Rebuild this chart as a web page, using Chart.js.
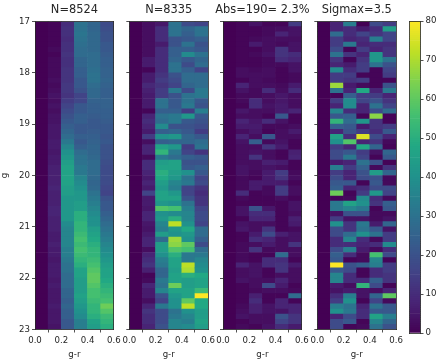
<!DOCTYPE html>
<html><head><meta charset="utf-8">
<style>
html,body{margin:0;padding:0;background:#fff;width:442px;height:361px;overflow:hidden}
canvas{position:absolute;left:0;top:0}
#wrap{position:absolute;left:0;top:0;width:442px;height:361px;filter:blur(0.3px)}
</style>
<script src="https://cdn.jsdelivr.net/npm/chart.js@4"></script>
</head><body><div id="wrap"></div>
<script>
const titles = ["N=8524","N=8335","Abs=190= 2.3%","Sigmax=3.5"];
const xTicksLabel = "g-r";
const yLabel = "g";
const colBins = [0.05,0.15,0.25,0.35,0.45,0.55];
const gStart = 17, gStep = 0.1;
const zeroColumn = [0,0,0,0,0,0,0,0,0,0, 0,0,0,0,0,0,0,0,0,0, 0,0,0,0,0,0,0,0,0,0, 0,0,0,0,0,0,0,0,0,0, 0,0,0,0,0,0,0,0,0,0, 0,0,0,0,0,0,0,0,0,0];

const p1c1 = [1,1,1,1,1,2,1,2,2,2, 2,3,2,3,4,3,4,3,4,4, 5,5,5,6,6,5,6,6,7,7, 7,7,8,7,7,7,8,8,7,7, 7,6,6,7,6,6,5,6,6,6, 5,6,5,5,5,6,5,5,5,4];
const p1c2 = [10,11,11,10,11,11,12,11,11,12, 12,12,13,13,12,14,16,18,20,22, 24,26,28,32,36,40,42,44,46,46, 46,46,44,44,42,42,42,42,42,38, 36,36,36,36,34,34,32,30,30,28, 28,28,26,26,24,26,24,24,22,22];
const p1c3 = [30,30,31,30,29,28,28,26,26,24, 24,22,22,20,16,17,22,22,24,24, 22,22,24,22,24,28,30,30,32,32, 36,38,40,42,42,44,44,50,50,52, 52,54,56,54,56,54,52,50,46,46, 44,44,44,46,44,42,40,38,34,34];
const p1c4 = [26,26,27,27,27,27,28,28,28,29, 30,30,28,27,27,25,24,24,23,22, 22,23,24,25,26,26,27,28,28,28, 27,26,27,30,32,34,36,38,40,40, 44,46,48,50,52,52,54,56,58,60, 60,58,56,56,54,52,52,50,46,44];
const p1c5 = [18,19,20,20,22,22,23,24,24,25, 25,26,25,24,24,25,25,24,24,23, 22,22,21,22,20,20,20,19,18,18, 18,18,17,16,20,22,22,24,26,28, 30,32,34,36,38,40,42,44,46,46, 48,50,52,54,56,62,58,54,52,50];

const p2c1 = [3,3,3,3,3,3,3,6,6,1, 6,6,9,7,6,6,6,1,8,10, 8,6,14,3,8,8,2,10,10,8, 6,8,6,16,6,6,5,8,8,5, 4,6,8,8,3,8,10,12,7,1, 2,8,6,6,3,8,12,10,10,8];
const p2c2 = [5,10,10,10,6,10,10,10,10,10, 12,14,12,14,14,30,30,24,30,28, 38,24,40,24,46,52,32,44,46,50, 48,44,42,46,46,42,58,40,42,36, 34,44,28,44,44,40,34,32,26,26, 32,30,36,20,16,32,18,18,18,20];
const p2c3 = [30,30,30,20,20,24,24,26,30,30, 20,18,16,32,20,22,22,24,32,32, 20,26,42,26,42,32,28,46,46,44, 42,36,34,42,46,40,56,38,50,72, 42,40,68,66,58,50,46,46,44,46, 46,62,46,42,40,40,30,32,36,36];
const p2c4 = [18,26,24,22,30,24,38,22,18,24, 28,28,26,18,30,30,32,14,42,22, 20,22,26,26,14,16,24,20,22,40, 30,32,16,16,20,30,34,36,36,40, 48,42,40,60,56,32,32,72,70,50, 44,44,46,46,60,72,40,36,34,38];
const p2c5 = [16,30,30,24,20,22,30,26,28,16, 28,28,28,32,32,22,20,34,22,20, 18,14,22,28,30,12,22,20,24,22, 16,18,12,10,12,12,16,18,18,16, 28,28,24,18,28,32,36,38,40,48, 46,46,54,80,48,48,44,44,46,44];

const p3c1 = [1,1,1,1,1,1,1,1,1,3, 3,1,8,4,2,2,1,5,3,8, 6,3,8,4,3,3,3,3,4,4, 2,2,2,10,2,1,4,4,1,4, 5,1,1,2,2,2,2,8,3,3, 4,1,1,1,1,2,3,4,1,2];
const p3c2 = [4,1,1,2,6,1,2,1,1,2, 3,3,3,2,2,10,10,3,3,5, 6,5,3,24,3,4,12,3,3,2, 1,6,6,1,1,1,20,10,8,3, 3,6,10,3,12,1,1,4,4,4, 3,3,2,7,10,7,7,3,3,1];
const p3c3 = [1,2,2,3,3,3,4,2,2,3, 3,2,3,10,3,3,4,3,1,10, 2,1,22,2,12,3,3,7,4,6, 6,6,2,2,1,1,5,10,8,3, 12,18,8,6,2,1,10,10,1,1, 3,18,3,1,1,4,4,3,3,4];
const p3c4 = [1,3,8,3,2,12,12,10,2,1, 1,1,2,3,5,5,6,6,22,4, 2,3,3,4,6,1,1,6,3,14, 12,6,14,14,3,1,1,1,1,1, 1,7,3,3,3,28,10,12,12,3, 8,6,3,1,8,8,4,20,16,10];
const p3c5 = [14,4,4,3,4,4,10,8,4,4, 2,2,6,10,3,3,3,8,1,1, 3,6,3,1,1,7,8,1,1,2, 3,1,3,3,1,4,4,3,7,6, 2,4,4,12,3,3,1,6,3,3, 3,1,2,28,1,8,8,12,12,6];

const p4c1 = [8,8,28,14,14,18,30,12,8,38, 14,14,68,30,1,14,8,36,22,52, 24,8,46,40,14,18,18,6,34,14, 18,22,24,62,1,32,32,4,14,40, 18,18,10,10,18,24,22,80,22,36, 36,6,4,10,14,34,40,8,18,18];
const p4c2 = [34,10,10,8,32,1,12,1,6,10, 14,12,6,8,24,38,38,10,24,28, 22,20,10,58,8,22,32,8,14,8, 8,22,8,1,2,46,36,20,4,12, 12,28,36,10,34,10,1,20,18,10, 10,3,6,34,40,30,32,18,22,1];
const p4c3 = [0,6,16,10,8,14,8,12,14,14, 1,14,2,48,14,16,8,8,1,42, 6,14,76,8,48,14,16,30,24,20, 18,1,10,14,38,40,32,20,4,32, 30,40,10,8,6,2,2,24,1,1, 10,52,4,4,1,8,10,10,1,2];
const p4c4 = [18,10,12,34,10,8,42,42,30,1, 1,1,1,8,14,20,30,18,66,12, 12,10,18,12,26,4,1,20,2,44, 20,22,18,42,10,12,1,2,2,6, 22,30,2,10,2,56,36,34,10,10, 24,18,3,26,16,30,22,46,36,30];
const p4c5 = [14,44,16,16,10,12,12,30,20,16, 14,1,20,32,8,12,16,28,1,1, 14,22,8,2,1,26,22,1,12,26, 2,2,18,16,2,24,22,2,4,26, 4,14,14,38,10,18,1,14,14,12, 12,1,8,60,2,22,22,34,26,20];

const panels = [
  [zeroColumn,p1c1,p1c2,p1c3,p1c4,p1c5],
  [zeroColumn,p2c1,p2c2,p2c3,p2c4,p2c5],
  [zeroColumn,p3c1,p3c2,p3c3,p3c4,p3c5],
  [zeroColumn,p4c1,p4c2,p4c3,p4c4,p4c5]
];
const colorbarTicks = [0,10,20,30,40,50,60,70,80];
const viridisStops = [[68,1,84],[72,36,117],[65,68,135],[53,95,141],[42,120,142],[33,145,140],[34,168,132],[68,191,112],[122,209,81],[189,223,38],[253,231,37]];

function viridis(v){
  const t = Math.max(0,Math.min(1,v/80))*(viridisStops.length-1);
  const i = Math.min(Math.floor(t),viridisStops.length-2), f = t-i;
  const a = viridisStops[i], b = viridisStops[i+1];
  return `rgb(${a.map((c,k)=>Math.round(c+(b[k]-c)*f)).join(",")})`;
}
const ink = "#262626", tickFont = {family:"'DejaVu Sans'",size:8.6};
const W = 442, H = 361;
Chart.defaults.animation = false;
Chart.defaults.responsive = false;

function spine(pos){
  const horiz = pos==="top"||pos==="bottom";
  return {position:pos,display:true,grid:{display:false},ticks:{display:false},
    border:{display:true,color:ink,width:0.8,z:2},
    afterFit:s=>{ if(horiz) s.height=0; else s.width=0; }};
}
function mount(){
  const c = document.createElement("canvas");
  c.width=W;c.height=H;c.style.width=W+"px";c.style.height=H+"px";
  document.getElementById("wrap").appendChild(c);
  return c;
}
const axisTicks = {color:ink,font:tickFont,padding:2,autoSkip:false,maxRotation:0,minRotation:0};
const axisGrid = {display:true,drawOnChartArea:false,drawTicks:true,tickLength:3,tickColor:ink,tickWidth:0.8};

const lefts = [35,129.3,223,317.3], plotW = 78.8, top_ = 21.5, bottom_ = 329.5;
panels.forEach((cols,p)=>{
  const L = lefts[p], R = L+plotW;
  const points = [], colors = [];
  cols.forEach((col,c)=>col.forEach((v,r)=>{
    points.push({x:colBins[c],y:[gStart+r*gStep,gStart+(r+1)*gStep]});
    colors.push(viridis(v));
  }));
  new Chart(mount(),{
    type:"bar",
    data:{datasets:[{data:points,backgroundColor:colors,borderWidth:0,categoryPercentage:1,barPercentage:1}]},
    options:{
      layout:{autoPadding:false,padding:{left:0,top:0,right:W-R,bottom:0}},
      plugins:{legend:{display:false},tooltip:{enabled:false},title:{display:false}},
      scales:{
        x:{type:"linear",position:"bottom",min:0,max:0.6,offset:false,
          grid:axisGrid,border:{display:true,color:ink,width:0.8,z:2},
          ticks:{...axisTicks,padding:3,stepSize:0.2,callback:v=>v.toFixed(1)},
          title:{display:true,text:xTicksLabel,color:ink,font:tickFont,padding:{top:0,bottom:1}},
          afterFit:s=>{s.height=H-bottom_;}},
        y:{type:"linear",position:"left",reverse:true,min:17,max:23,
          grid:axisGrid,border:{display:true,color:ink,width:0.8,z:2},
          ticks:{...axisTicks,stepSize:1,callback:v=>p===0?String(v):""},
          title:{display:p===0,text:yLabel,color:ink,font:tickFont,padding:0},
          afterFit:s=>{s.width=L;}},
        /* the panel title is the single centred label of the top axis, so a wide title keeps its natural width */
        xTop:{...spine("top"),type:"linear",min:0,max:0.6,
          grid:{display:false,drawTicks:false},
          afterBuildTicks:s=>{s.ticks=[{value:0.3}];},
          ticks:{display:true,color:ink,font:{family:"'DejaVu Sans'",size:11.4},padding:4.4,
            autoSkip:false,maxRotation:0,minRotation:0,callback:()=>titles[p]},
          afterFit:s=>{s.height=top_;}},
        yRight:spine("right")
      }
    }
  });
});

/* colour bar */
const cbL = 409.5, cbR = 420.5, cbT = 21, cbB = 333;
const cbPoints = [], cbColors = [];
for(let v=0;v<80;v+=0.5){cbPoints.push({x:0.5,y:[v,v+0.5]});cbColors.push(viridis(v+0.25));}
new Chart(mount(),{
  type:"bar",
  data:{datasets:[{data:cbPoints,backgroundColor:cbColors,borderWidth:0,categoryPercentage:1,barPercentage:1}]},
  options:{
    layout:{autoPadding:false,padding:{left:0,top:cbT,right:0,bottom:0}},
    plugins:{legend:{display:false},tooltip:{enabled:false},title:{display:false}},
    scales:{
      x:{type:"linear",position:"bottom",min:0,max:1,offset:false,grid:{display:false},ticks:{display:false},
        border:{display:true,color:ink,width:0.8,z:2},afterFit:s=>{s.height=H-cbB;}},
      y:{type:"linear",position:"right",min:0,max:80,
        grid:axisGrid,border:{display:true,color:ink,width:0.8,z:2},
        ticks:{...axisTicks,stepSize:10,callback:v=>colorbarTicks.includes(v)?String(v):""},
        afterFit:s=>{s.width=W-cbR;}},
      yLeft:{...spine("left"),afterFit:s=>{s.width=cbL;}},
      xTop:spine("top")
    }
  }
});
</script></body></html>
